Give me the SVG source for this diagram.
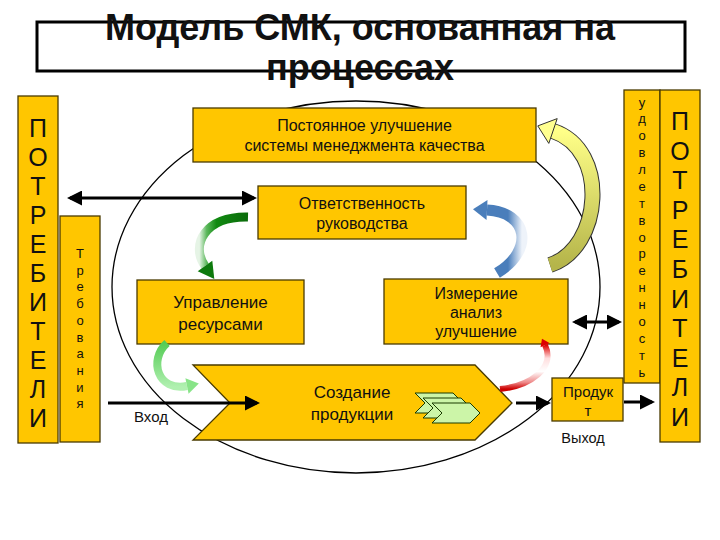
<svg xmlns="http://www.w3.org/2000/svg" width="720" height="540" viewBox="0 0 720 540">
<style>
.box{fill:#FFC600;stroke:#4a3b00;stroke-width:1.3}
.t{font-family:"Liberation Sans",Arial,sans-serif;fill:#111;text-anchor:middle}
.conn{stroke:#000;stroke-width:3;fill:none}
.chev{fill:#ccf5a8;stroke:#1a3a00;stroke-width:1}
</style>
<defs>
<marker id="ah" viewBox="0 0 10 10" refX="8" refY="5" markerWidth="7" markerHeight="5" orient="auto-start-reverse" markerUnits="strokeWidth">
<path d="M0,0 L10,5 L0,10 z" fill="#000"/>
</marker>
<linearGradient id="gDark" x1="0" y1="0" x2="1" y2="0">
<stop offset="0" stop-color="#e6f4e6"/><stop offset="0.15" stop-color="#5cb85c"/><stop offset="0.35" stop-color="#118a11"/><stop offset="1" stop-color="#0b6b0b"/>
</linearGradient>
<linearGradient id="gLight" x1="0" y1="0" x2="0" y2="1">
<stop offset="0" stop-color="#55cc55"/><stop offset="1" stop-color="#b0f0b0"/>
</linearGradient>
<linearGradient id="gBlue" x1="0" y1="0" x2="1" y2="0">
<stop offset="0" stop-color="#4a7ebb"/><stop offset="0.6" stop-color="#4a7ebb"/><stop offset="1" stop-color="#eef3fa"/>
</linearGradient>
<linearGradient id="gRed" x1="0" y1="0" x2="0" y2="1">
<stop offset="0" stop-color="#dd0000"/><stop offset="0.3" stop-color="#ffdede"/><stop offset="0.6" stop-color="#ffffff"/><stop offset="0.85" stop-color="#ee8888"/><stop offset="1" stop-color="#cc0000"/>
</linearGradient>
<linearGradient id="gYel" x1="0" y1="1" x2="0" y2="0">
<stop offset="0" stop-color="#b5b54a"/><stop offset="1" stop-color="#ffff88"/>
</linearGradient>
</defs>
<rect width="720" height="540" fill="#fff"/>

<g id="title">
<rect x="37" y="22" width="648" height="49" fill="#fff" stroke="#000" stroke-width="3"/>
<text class="t" x="360" y="40" font-size="36" font-weight="bold">Модель СМК, основанная на</text>
<text class="t" x="360" y="80" font-size="36" font-weight="bold">процессах</text>
</g>

<ellipse id="cycle" cx="356" cy="287" rx="244" ry="186" fill="none" stroke="#000" stroke-width="1.3"/>

<g id="consumers-left">
<rect class="box" x="18" y="96" width="40" height="347"/>
<text class="t" font-size="25"><tspan x="38" y="137">П</tspan><tspan x="38" y="166">О</tspan><tspan x="38" y="195">Т</tspan><tspan x="38" y="224">Р</tspan><tspan x="38" y="253">Е</tspan><tspan x="38" y="282">Б</tspan><tspan x="38" y="311">И</tspan><tspan x="38" y="340">Т</tspan><tspan x="38" y="369">Е</tspan><tspan x="38" y="398">Л</tspan><tspan x="38" y="427">И</tspan></text>
</g>

<g id="requirements">
<rect class="box" x="60" y="216" width="40" height="226"/>
<text class="t" font-size="13"><tspan x="80" y="258">Т</tspan><tspan x="80" y="274.7">р</tspan><tspan x="80" y="291.4">е</tspan><tspan x="80" y="308.1">б</tspan><tspan x="80" y="324.8">о</tspan><tspan x="80" y="341.5">в</tspan><tspan x="80" y="358.2">а</tspan><tspan x="80" y="374.9">н</tspan><tspan x="80" y="391.6">и</tspan><tspan x="80" y="408.3">я</tspan></text>
</g>

<g id="satisfaction">
<rect class="box" x="624" y="90" width="36" height="293"/>
<text class="t" font-size="13"><tspan x="642" y="106.5">у</tspan><tspan x="642" y="123.4">д</tspan><tspan x="642" y="140.3">о</tspan><tspan x="642" y="157.1">в</tspan><tspan x="642" y="174">л</tspan><tspan x="642" y="190.9">е</tspan><tspan x="642" y="207.8">т</tspan><tspan x="642" y="224.6">в</tspan><tspan x="642" y="241.5">о</tspan><tspan x="642" y="258.4">р</tspan><tspan x="642" y="275.3">е</tspan><tspan x="642" y="292.1">н</tspan><tspan x="642" y="309">н</tspan><tspan x="642" y="325.9">о</tspan><tspan x="642" y="342.8">с</tspan><tspan x="642" y="359.6">т</tspan><tspan x="642" y="376.5">ь</tspan></text>
</g>

<g id="consumers-right">
<rect class="box" x="660" y="90" width="40" height="352"/>
<text class="t" font-size="25"><tspan x="680" y="130">П</tspan><tspan x="680" y="159.6">О</tspan><tspan x="680" y="189.2">Т</tspan><tspan x="680" y="218.8">Р</tspan><tspan x="680" y="248.4">Е</tspan><tspan x="680" y="278">Б</tspan><tspan x="680" y="307.6">И</tspan><tspan x="680" y="337.2">Т</tspan><tspan x="680" y="366.8">Е</tspan><tspan x="680" y="396.4">Л</tspan><tspan x="680" y="426">И</tspan></text>
</g>

<g id="improvement">
<rect class="box" x="193" y="108" width="343" height="54"/>
<text class="t" x="364.5" y="131" font-size="16">Постоянное улучшение</text>
<text class="t" x="364.5" y="151" font-size="16">системы менеджмента качества</text>
</g>

<g id="responsibility">
<rect class="box" x="258" y="186" width="208" height="53"/>
<text class="t" x="362" y="209" font-size="16">Ответственность</text>
<text class="t" x="362" y="229" font-size="16">руководства</text>
</g>

<g id="resources">
<rect class="box" x="137" y="280" width="167" height="64"/>
<text class="t" x="220.5" y="308" font-size="17">Управление</text>
<text class="t" x="220.5" y="330" font-size="17">ресурсами</text>
</g>

<g id="measurement">
<rect class="box" x="384" y="279" width="184" height="65"/>
<text class="t" x="476" y="299" font-size="16">Измерение</text>
<text class="t" x="476" y="318" font-size="16">анализ</text>
<text class="t" x="476" y="337" font-size="16">улучшение</text>
</g>

<g id="production">
<polygon class="box" points="193,365 475,365 512,403 475,440 193,440 230,403"/>
<text class="t" x="352" y="398" font-size="17">Создание</text>
<text class="t" x="352" y="420" font-size="17">продукции</text>
<polygon class="chev" points="415,393 453,393 463,403 453,413 415,413 425,403"/>
<polygon class="chev" points="423,398 461,398 471,408 461,418 423,418 433,408"/>
<polygon class="chev" points="432,403 470,403 480,413 470,423 432,423 442,413"/>
</g>

<g id="product">
<rect class="box" x="552" y="378" width="71" height="43"/>
<text class="t" x="588" y="397" font-size="15">Продук</text>
<text class="t" x="588" y="416" font-size="15">т</text>
</g>

<g id="labels">
<text class="t" x="151" y="422" font-size="15">Вход</text>
<text class="t" x="583" y="443" font-size="14.5">Выход</text>
</g>

<g id="cycle-arrows">
<path d="M248,217 C205,216 190,245 205,266" fill="none" stroke="url(#gDark)" stroke-width="9"/>
<polygon points="197.7,271.2 212.3,260.8 214.3,279" fill="#0d7a0d"/>
<path d="M167,343 C148,360 158,392 187,386" fill="none" stroke="url(#gLight)" stroke-width="8"/>
<polygon points="188.6,393.8 185.4,378.2 198.8,383.6" fill="#88e488"/>
<path d="M497,273 C535,250 528,212 487,210" fill="none" stroke="url(#gBlue)" stroke-width="11"/>
<polygon points="487.5,200 486.5,220 473,209.3" fill="#4a7ebb"/>
<path d="M500,389 C530,386 556,368 545,345" fill="none" stroke="url(#gRed)" stroke-width="6"/>
<polygon points="549.5,342.9 540.5,347.2 542,338.7" fill="#dd0000"/>
<path d="M550,265 C602,248 610,150 553,131" fill="none" stroke="#333" stroke-width="16"/>
<path d="M550,265 C602,248 610,150 553,131" fill="none" stroke="url(#gYel)" stroke-width="14"/>
<polygon points="557.2,118.6 548.8,143.4 537.8,125.9" fill="#ffff90" stroke="#333" stroke-width="1"/>
</g>

<g id="connectors">
<line class="conn" x1="108" y1="403" x2="257" y2="403" marker-end="url(#ah)"/>
<line class="conn" x1="516" y1="403" x2="548" y2="403" marker-end="url(#ah)"/>
<line class="conn" x1="624" y1="402" x2="652" y2="402" marker-end="url(#ah)"/>
<line class="conn" x1="70" y1="198" x2="254" y2="198" marker-start="url(#ah)" marker-end="url(#ah)"/>
<line class="conn" x1="575" y1="322" x2="619" y2="322" marker-start="url(#ah)" marker-end="url(#ah)"/>
</g>
</svg>
